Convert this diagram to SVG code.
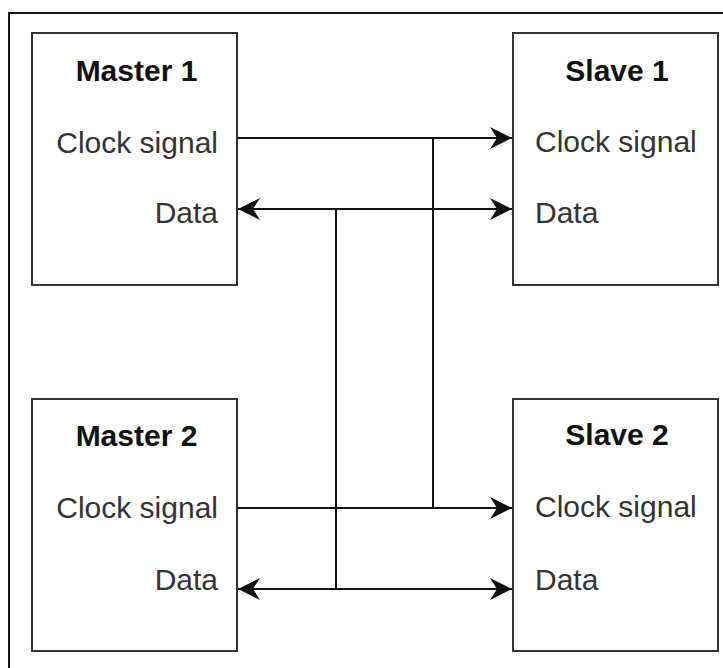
<svg xmlns="http://www.w3.org/2000/svg" width="723" height="668" viewBox="0 0 723 668">
<style>
.box{fill:#fff;stroke:#333;stroke-width:2}
.t{font-family:"Liberation Sans",Arial,sans-serif;font-size:30px;fill:#333}
.b{font-family:"Liberation Sans",Arial,sans-serif;font-size:30px;font-weight:bold;fill:#111;text-anchor:middle}
.e{text-anchor:end}
.w{fill:none;stroke:#111;stroke-width:2}
</style>
<defs>
<marker id="ah" markerUnits="userSpaceOnUse" markerWidth="26" markerHeight="26" viewBox="-24 -13 26 26" refX="0" refY="0" orient="auto-start-reverse">
<path d="M0,0 L-22,-11 L-15,0 L-22,11 Z" fill="#111"/>
</marker>
</defs>
<rect x="9" y="13" width="720" height="670" fill="#fff" stroke="#111" stroke-width="2"/>
<g id="master1">
<rect class="box" x="32" y="33" width="205" height="252"/>
<text class="b" x="136.5" y="81">Master 1</text>
<text class="t e" x="218" y="153">Clock signal</text>
<text class="t e" x="218" y="223">Data</text>
</g>
<g id="slave1">
<rect class="box" x="513" y="33" width="205" height="252"/>
<text class="b" x="617" y="81">Slave 1</text>
<text class="t" x="535" y="152">Clock signal</text>
<text class="t" x="535" y="223">Data</text>
</g>
<g id="master2">
<rect class="box" x="32" y="399" width="205" height="252"/>
<text class="b" x="136.5" y="446">Master 2</text>
<text class="t e" x="218" y="518">Clock signal</text>
<text class="t e" x="218" y="590">Data</text>
</g>
<g id="slave2">
<rect class="box" x="513" y="399" width="205" height="252"/>
<text class="b" x="617" y="445">Slave 2</text>
<text class="t" x="535" y="517">Clock signal</text>
<text class="t" x="535" y="590">Data</text>
</g>
<g id="connectors">
<line class="w" x1="237" y1="138" x2="512" y2="138" marker-end="url(#ah)"/>
<line class="w" x1="238" y1="209" x2="512" y2="209" marker-start="url(#ah)" marker-end="url(#ah)"/>
<line class="w" x1="237" y1="508" x2="512" y2="508" marker-end="url(#ah)"/>
<line class="w" x1="238" y1="589" x2="512" y2="589" marker-start="url(#ah)" marker-end="url(#ah)"/>
<line class="w" x1="433" y1="138" x2="433" y2="508"/>
<line class="w" x1="336" y1="209" x2="336" y2="589"/>
</g>
</svg>
